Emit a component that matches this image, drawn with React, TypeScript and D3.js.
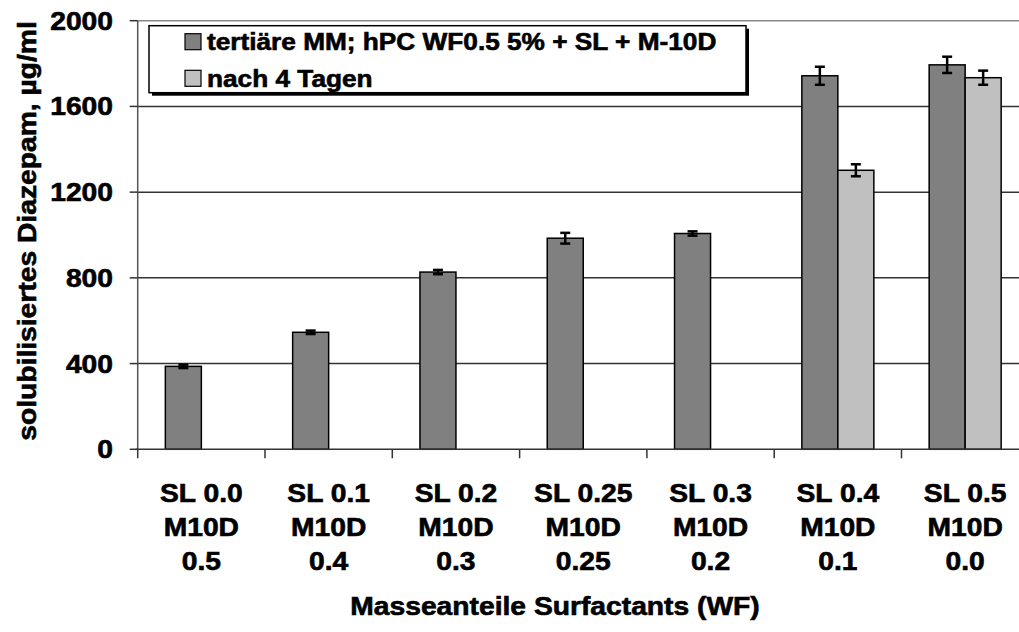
import React from "react";
import * as d3 from "d3";

const categories = [
  ["SL 0.0", "M10D", "0.5"],
  ["SL 0.1", "M10D", "0.4"],
  ["SL 0.2", "M10D", "0.3"],
  ["SL 0.25", "M10D", "0.25"],
  ["SL 0.3", "M10D", "0.2"],
  ["SL 0.4", "M10D", "0.1"],
  ["SL 0.5", "M10D", "0.0"],
];
const seriesNames = ["tertiäre MM; hPC WF0.5 5% + SL + M-10D", "nach 4 Tagen"];
const series1 = [387, 546, 827, 985, 1007, 1743, 1794];
const series1Err = [8, 8, 10, 25, 10, 42, 38];
const series2: (number | null)[] = [null, null, null, null, null, 1302, 1734];
const series2Err: (number | null)[] = [null, null, null, null, null, 28, 33];
const yTicks = [0, 400, 800, 1200, 1600, 2000];
const colors = ["#808080", "#C0C0C0"];

const W = 1019;
const H = 632;
const left = 137.7;
const right = 1028.8;
const top = 20.7;
const bottom = 449.3;
const FONT = "'Liberation Sans', Arial, sans-serif";
const SX = 1.13;

function T(props: { x: number; y: number; rot?: number; anchor?: string; size: number; dy?: string; sx?: number; children: any }) {
  const { x, y, rot = 0, anchor = "start", size, dy, sx = SX, children } = props;
  return (
    <text transform={`translate(${x},${y}) rotate(${rot}) scale(${sx},1)`} textAnchor={anchor} fontSize={size} dy={dy}
      stroke="#000" strokeWidth={0.6}>
      {children}
    </text>
  );
}

export default function App() {
  const idx = categories.map((_, i) => String(i));
  const x = d3.scaleBand().domain(idx).range([left, right]).paddingInner(0).paddingOuter(0);
  const y = d3.scaleLinear().domain([0, 2000]).range([bottom, top]);
  const bw = x.bandwidth() / (2 + 1.536);
  const groupOffset = (x.bandwidth() - 2 * bw) / 2;

  const bars: any[] = [];
  const errs: any[] = [];
  const all = [
    { vals: series1, err: series1Err },
    { vals: series2, err: series2Err },
  ];
  all.forEach((s, si) => {
    s.vals.forEach((v, i) => {
      if (v == null) return;
      const bx = (x(String(i)) as number) + groupOffset + si * bw;
      bars.push(
        <rect key={`b${si}-${i}`} x={bx} y={y(v)} width={bw} height={bottom - y(v)}
          fill={colors[si]} stroke="#000" strokeWidth={1.5} />
      );
      const e = s.err[i] as number;
      const cx = bx + bw / 2;
      errs.push(
        <g key={`e${si}-${i}`} stroke="#000" strokeWidth={2.5}>
          <line x1={cx} x2={cx} y1={y(v + e)} y2={y(v - e)} />
          <line x1={cx - 5} x2={cx + 5} y1={y(v + e)} y2={y(v + e)} />
          <line x1={cx - 5} x2={cx + 5} y1={y(v - e)} y2={y(v - e)} />
        </g>
      );
    });
  });

  const boundaries = d3.range(categories.length + 1).map((i) => left + i * x.bandwidth());

  return (
    <svg width={W} height={H} style={{ position: "absolute", left: 0, top: 0, background: "#fff" }}
      fontFamily={FONT} fontWeight="bold">
      <rect x={0} y={0} width={W} height={H} fill="#fff" />
      {yTicks.filter((t) => t > 0).map((t) => (
        <line key={`g${t}`} x1={left} x2={right} y1={y(t)} y2={y(t)}
          stroke={t === 2000 ? "#888" : "#333"} strokeWidth={1.5} />
      ))}
      {bars}
      {errs}
      <line x1={left} x2={left} y1={top} y2={bottom} stroke="#555" strokeWidth={1.5} />
      <line x1={left - 2} x2={right} y1={bottom} y2={bottom} stroke="#333" strokeWidth={1.5} />
      {yTicks.map((t) => (
        <g key={`yt${t}`}>
          <line x1={left - 8} x2={left} y1={y(t)} y2={y(t)} stroke="#333" strokeWidth={1.5} />
          <T x={113} y={y(t)} dy="0.36em" anchor="end" size={25}>{t}</T>
        </g>
      ))}
      {boundaries.map((b, i) => (
        <line key={`xt${i}`} x1={b} x2={b} y1={bottom} y2={bottom + 9} stroke="#333" strokeWidth={1.5} />
      ))}
      {categories.map((lines, i) => {
        const cx = (x(String(i)) as number) + x.bandwidth() / 2;
        return (
          <g key={`xl${i}`}>
            {lines.map((l, j) => (
              <T key={j} x={cx} y={501.7 + j * 34.2} anchor="middle" size={25}>{l}</T>
            ))}
          </g>
        );
      })}
      <T x={555} y={615} anchor="middle" size={25}>Masseanteile Surfactants (WF)</T>
      <T x={36} y={231} rot={-90} anchor="middle" size={25}>solubilisiertes Diazepam, µg/ml</T>
      <rect x={152} y={28.7} width={597} height={67} fill="#000" />
      <rect x={149} y={25.7} width={597} height={67} fill="#fff" stroke="#000" strokeWidth={1.5} />
      {seriesNames.map((n, i) => {
        const cy = 41.7 + i * 36.6;
        return (
          <g key={`lg${i}`}>
            <rect x={185} y={cy - 8} width={16} height={16} fill={colors[i]} stroke="#000" strokeWidth={1.2} />
            <T x={207} y={cy} dy="0.36em" size={23} sx={1.14}>{n}</T>
          </g>
        );
      })}
    </svg>
  );
}
